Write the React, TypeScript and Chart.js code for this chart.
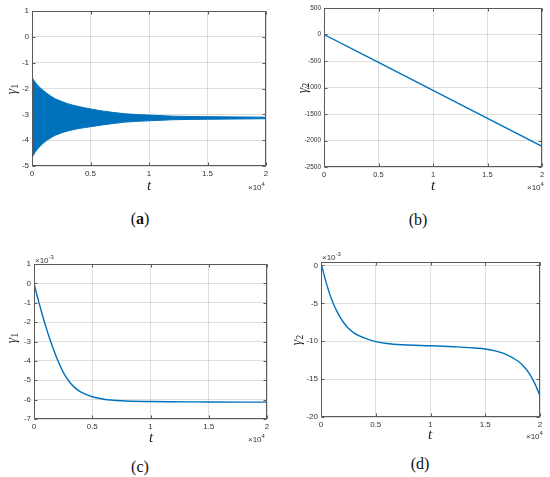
import React, { useEffect, useRef } from "react";
import { Chart, registerables } from "chart.js";

Chart.register(...registerables);

// ---------- data ----------
const T_TICKS = [0, 5000, 10000, 15000, 20000];

// (a) gamma1: envelope of the fast oscillation
const tA = [0, 250, 500, 1000, 1500, 2000, 3000, 4000, 5000, 6000, 7000, 8000, 10000, 12000, 15000, 20000];
const upperA = [-1.57, -1.74, -1.88, -2.09, -2.26, -2.4, -2.58, -2.7, -2.79, -2.87, -2.93, -2.98, -3.03, -3.07, -3.09, -3.11];
const lowerA = [-4.68, -4.48, -4.33, -4.1, -3.94, -3.81, -3.65, -3.55, -3.48, -3.41, -3.35, -3.3, -3.25, -3.21, -3.19, -3.17];
const startTA = [0, 0];
const startYA = [0, -1.57];
const yTicksA = [-5, -4, -3, -2, -1, 0, 1];

// (b) gamma2
const tB = [0, 5000, 10000, 15000, 20000];
const yB = [0, -527, -1055, -1582, -2110];
const yTicksB = [-2500, -2000, -1500, -1000, -500, 0, 500];

// (c) gamma1 (x10^-3)
const tC = [0, 250, 500, 750, 1000, 1250, 1500, 2000, 2500, 3000, 3500, 4000, 5000, 6000, 7500, 10000, 15000, 20000];
const yC = [0, -0.6, -1.15, -1.7, -2.2, -2.68, -3.12, -3.92, -4.58, -5.05, -5.38, -5.6, -5.85, -5.98, -6.06, -6.1, -6.12, -6.13];
const yTicksC = [-7, -6, -5, -4, -3, -2, -1, 0, 1];

// (d) gamma2 (x10^-3)
const tD = [0, 500, 1000, 1500, 2000, 2500, 3000, 3500, 4000, 5000, 6000, 7500, 10000, 12500, 14000, 15000, 16000, 17000, 18000, 18500, 19000, 19500, 20000];
const yD = [0.3, -2.4, -4.6, -6.2, -7.4, -8.3, -8.9, -9.3, -9.6, -10.05, -10.3, -10.47, -10.6, -10.75, -10.9, -11.02, -11.3, -11.8, -12.65, -13.3, -14.2, -15.5, -17.2];
const yTicksD = [-20, -15, -10, -5, 0];

const LINE = "#0072BD";
const BOX = "#5a5a5a";
const GRID = "rgba(38,38,38,0.15)";
const TICK_FAMILY = "'Liberation Sans', Arial, sans-serif";
const TICK_COLOR = "#333";

const pts = (xs: number[], ys: number[]) => xs.map((x, i) => ({ x, y: ys[i] }));

const boxPlugin = {
  id: "matlabBox",
  afterDatasetsDraw(chart: any) {
    const { ctx, chartArea, scales } = chart;
    const l = Math.round(chartArea.left) + 0.5;
    const r = Math.round(chartArea.right) - 0.5;
    const t = Math.round(chartArea.top) + 0.5;
    const b = Math.round(chartArea.bottom) - 0.5;
    const len = 3;
    ctx.save();
    ctx.strokeStyle = BOX;
    ctx.lineWidth = 1;
    ctx.beginPath();
    for (const tk of scales.x.ticks) {
      const px = Math.round(scales.x.getPixelForValue(tk.value)) + 0.5;
      ctx.moveTo(px, b);
      ctx.lineTo(px, b - len);
      ctx.moveTo(px, t);
      ctx.lineTo(px, t + len);
    }
    for (const tk of scales.y.ticks) {
      const py = Math.round(scales.y.getPixelForValue(tk.value)) + 0.5;
      ctx.moveTo(l, py);
      ctx.lineTo(l + len, py);
      ctx.moveTo(r, py);
      ctx.lineTo(r - len, py);
    }
    ctx.stroke();
    ctx.strokeRect(l, t, r - l, b - t);
    ctx.restore();
  },
};

type Panel = {
  key: string;
  cx: number; cy: number; cw: number; ch: number; // canvas rect (page coords)
  pl: number; pt: number; pr: number; pb: number; // plot rect (page coords)
  ymin: number; ymax: number; yTicks: number[];
  yFont: number; xFont: number;
  datasets: any[];
};

const panels: Panel[] = [
  {
    key: "a", cx: 0, cy: 0, cw: 275, ch: 195,
    pl: 32, pt: 11, pr: 266, pb: 166,
    ymin: -5, ymax: 1, yTicks: yTicksA, yFont: 8, xFont: 8,
    datasets: [
      { data: pts(tA, upperA), borderColor: LINE, backgroundColor: LINE, borderWidth: 1, fill: "+1", pointRadius: 0, cubicInterpolationMode: "monotone" },
      { data: pts(tA, lowerA), borderColor: LINE, backgroundColor: LINE, borderWidth: 1, fill: false, pointRadius: 0, cubicInterpolationMode: "monotone" },
      { data: pts(startTA, startYA), borderColor: "#2a8ad4", borderWidth: 1, fill: false, pointRadius: 0 },
    ],
  },
  {
    key: "b", cx: 275, cy: 0, cw: 275, ch: 195,
    pl: 324, pt: 8, pr: 542, pb: 167,
    ymin: -2500, ymax: 500, yTicks: yTicksB, yFont: 6.5, xFont: 7.5,
    datasets: [
      { data: pts(tB, yB), borderColor: LINE, borderWidth: 1.4, fill: false, pointRadius: 0 },
    ],
  },
  {
    key: "c", cx: 0, cy: 245, cw: 275, ch: 200,
    pl: 34, pt: 264, pr: 267, pb: 419,
    ymin: -7, ymax: 1, yTicks: yTicksC, yFont: 8, xFont: 8,
    datasets: [
      { data: pts(tC, yC), borderColor: LINE, borderWidth: 1.4, fill: false, pointRadius: 0, cubicInterpolationMode: "monotone" },
    ],
  },
  {
    key: "d", cx: 275, cy: 245, cw: 275, ch: 200,
    pl: 321, pt: 262, pr: 540, pb: 417,
    ymin: -20, ymax: 0.45, yTicks: yTicksD, yFont: 8, xFont: 8,
    datasets: [
      { data: pts(tD, yD), borderColor: LINE, borderWidth: 1.4, fill: false, pointRadius: 0, cubicInterpolationMode: "monotone" },
    ],
  },
];

function PanelChart({ p }: { p: Panel }) {
  const ref = useRef<HTMLCanvasElement>(null);
  useEffect(() => {
    if (!ref.current) return;
    const padTop = p.pt - p.cy;
    const padRight = p.cx + p.cw - p.pr;
    const yW = p.pl - p.cx;
    const xH = p.cy + p.ch - p.pb;
    const chart = new Chart(ref.current, {
      type: "line",
      data: { datasets: p.datasets },
      plugins: [boxPlugin],
      options: {
        animation: false,
        responsive: false,
        devicePixelRatio: 1,
        layout: { padding: { top: padTop, right: padRight, left: 0, bottom: 0 } },
        plugins: { legend: { display: false }, tooltip: { enabled: false } },
        scales: {
          x: {
            type: "linear",
            min: 0,
            max: 20000,
            ticks: {
              font: { family: TICK_FAMILY, size: p.xFont },
              color: TICK_COLOR,
              padding: 3,
              maxRotation: 0,
              autoSkip: false,
              callback: (v: any) => String(Number(v) / 10000),
            },
            afterBuildTicks: (s: any) => {
              s.ticks = T_TICKS.map((value) => ({ value }));
            },
            grid: { color: GRID, drawTicks: false },
            border: { display: false },
            afterFit: (s: any) => { s.height = xH; },
          },
          y: {
            type: "linear",
            min: p.ymin,
            max: p.ymax,
            ticks: {
              font: { family: TICK_FAMILY, size: p.yFont },
              color: TICK_COLOR,
              padding: 3,
              autoSkip: false,
              callback: (v: any) => String(Math.round(Number(v) * 1000) / 1000),
            },
            afterBuildTicks: (s: any) => {
              s.ticks = p.yTicks.map((value) => ({ value }));
            },
            grid: { color: GRID, drawTicks: false },
            border: { display: false },
            afterFit: (s: any) => { s.width = yW; },
          },
        },
      } as any,
    });
    return () => chart.destroy();
  }, [p]);
  return (
    <canvas
      ref={ref}
      width={p.cw}
      height={p.ch}
      style={{ position: "absolute", left: p.cx, top: p.cy, width: p.cw, height: p.ch }}
    />
  );
}

const serif = "'Liberation Serif', 'Times New Roman', serif";
const sans = "'Liberation Sans', Arial, sans-serif";

function YLabel({ x, y, sub }: { x: number; y: number; sub: string }) {
  return (
    <div
      style={{
        position: "absolute", left: x, top: y, transform: "translate(-50%,-50%) rotate(-90deg)",
        fontFamily: serif, fontSize: 14, color: "#222", whiteSpace: "nowrap", lineHeight: 1,
      }}
    >
      <i>γ</i>
      <span style={{ fontSize: 10, verticalAlign: "-2px" }}>{sub}</span>
    </div>
  );
}

function Txt({ x, y, children, style }: any) {
  return (
    <div style={{ position: "absolute", left: x, top: y, transform: "translate(-50%,-50%)", whiteSpace: "nowrap", lineHeight: 1, ...style }}>
      {children}
    </div>
  );
}

function Exp({ x, y, e }: { x: number; y: number; e: string }) {
  return (
    <div style={{ position: "absolute", left: x, top: y, transform: "translateY(-50%)", fontFamily: sans, fontSize: 8, color: "#333", whiteSpace: "nowrap", lineHeight: 1 }}>
      ×10<sup style={{ fontSize: 6, verticalAlign: "4px" }}>{e}</sup>
    </div>
  );
}

export default function App() {
  const tStyle = { fontFamily: serif, fontStyle: "italic", fontSize: 15, color: "#222" };
  const labStyle = { fontFamily: serif, fontSize: 16, color: "#111" };
  return (
    <div style={{ position: "absolute", left: 0, top: 0, width: 550, height: 477, background: "#fff", overflow: "hidden" }}>
      {panels.map((p) => (
        <PanelChart key={p.key} p={p} />
      ))}
      <YLabel x={12} y={89} sub="1" />
      <YLabel x={303} y={88} sub="2" />
      <YLabel x={12} y={338} sub="1" />
      <YLabel x={297} y={340} sub="2" />

      <Txt x={149} y={185} style={tStyle}>t</Txt>
      <Txt x={433} y={185} style={tStyle}>t</Txt>
      <Txt x={151} y={437} style={tStyle}>t</Txt>
      <Txt x={430} y={434} style={tStyle}>t</Txt>

      <Exp x={248} y={186} e="4" />
      <Exp x={527} y={186} e="4" />
      <Exp x={248} y={438} e="4" />
      <Exp x={526} y={435} e="4" />
      <Exp x={35} y={259} e="-3" />
      <Exp x={322} y={256} e="-3" />

      <Txt x={140} y={219} style={labStyle}>(<b>a</b>)</Txt>
      <Txt x={418} y={220} style={labStyle}>(b)</Txt>
      <Txt x={140} y={467} style={labStyle}>(c)</Txt>
      <Txt x={420} y={464} style={labStyle}>(d)</Txt>
    </div>
  );
}
